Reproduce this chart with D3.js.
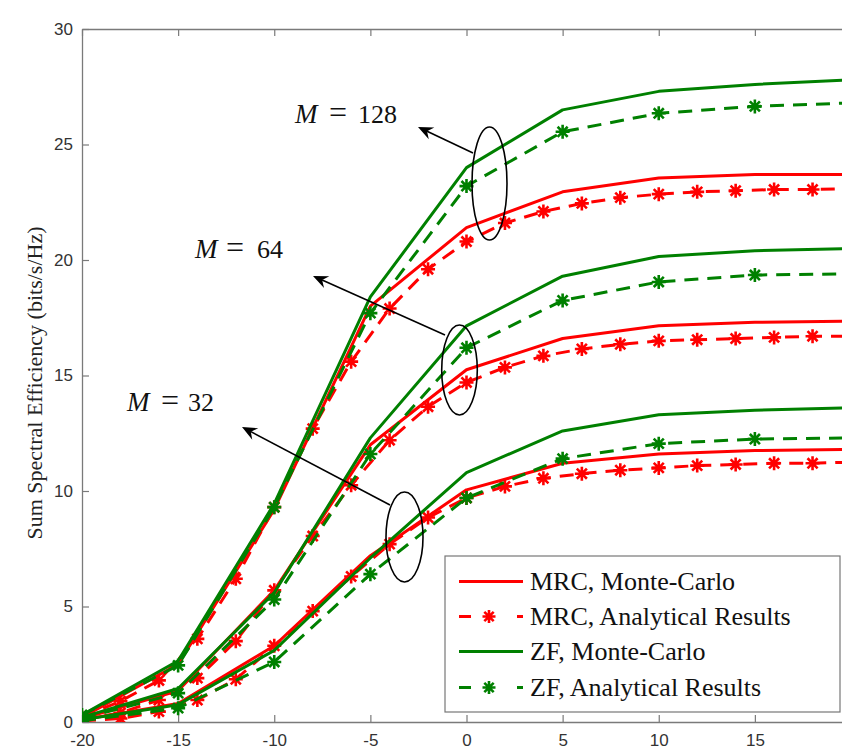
<!DOCTYPE html>
<html><head><meta charset="utf-8">
<script src="https://cdn.jsdelivr.net/npm/d3@7"></script>
<style>body{margin:0;background:#fff;}</style>
</head><body>
<div id="chart"></div>
<script>
// ---- data ----
const snr5 = [-20, -15, -10, -5, 0, 5, 10, 15, 20];
const snr2 = [-20,-18,-16,-14,-12,-10,-8,-6,-4,-2,0,2,4,6,8,10,12,14,16,18,20];
const xTicks = [-20, -15, -10, -5, 0, 5, 10, 15, 20];
const yTicks = [0, 5, 10, 15, 20, 25, 30];

// MRC, Monte-Carlo
const mrcMC128 = [0.2, 2.5, 9.2, 18.0, 21.4, 22.95, 23.55, 23.7, 23.7];
const mrcMC64  = [0.15, 1.35, 5.7, 12.0, 15.25, 16.6, 17.15, 17.3, 17.35];
const mrcMC32  = [0.1, 0.8, 3.3, 7.2, 10.05, 11.2, 11.6, 11.75, 11.8];
// MRC, Analytical
const mrcAn128 = [0.2,0.9,1.8,3.6,6.2,9.3,12.7,15.6,17.9,19.6,20.8,21.6,22.1,22.45,22.7,22.85,22.95,23.0,23.05,23.05,23.1];
const mrcAn64  = [0.1,0.4,0.95,1.9,3.5,5.7,8.05,10.25,12.2,13.65,14.7,15.35,15.85,16.15,16.35,16.5,16.55,16.6,16.65,16.7,16.7];
const mrcAn32  = [0.05,0.15,0.45,0.95,1.85,3.3,4.8,6.3,7.7,8.85,9.7,10.2,10.55,10.75,10.9,11.0,11.1,11.15,11.2,11.2,11.25];
// ZF, Monte-Carlo
const zfMC128 = [0.3, 2.65, 9.45, 18.4, 24.0, 26.5, 27.3, 27.6, 27.8];
const zfMC64  = [0.2, 1.45, 5.6, 12.3, 17.15, 19.3, 20.15, 20.4, 20.5];
const zfMC32  = [0.1, 0.75, 3.1, 7.1, 10.8, 12.6, 13.3, 13.5, 13.6];
// ZF, Analytical
const zfAn128 = [0.3, 2.45, 9.3, 17.7, 23.2, 25.55, 26.35, 26.65, 26.8];
const zfAn64  = [0.15, 1.25, 5.3, 11.6, 16.2, 18.25, 19.05, 19.35, 19.4];
const zfAn32  = [0.05, 0.6, 2.6, 6.4, 9.7, 11.4, 12.05, 12.25, 12.3];

const legendLabels = ["MRC, Monte-Carlo", "MRC, Analytical Results", "ZF, Monte-Carlo", "ZF, Analytical Results"];
const annotLabels = ["128", "64", "32"];
const yLabel = "Sum Spectral Efficiency (bits/s/Hz)";

// ---- drawing ----
const W = 842, H = 756;
const RED = "#ff0000", GREEN = "#008000";
const svg = d3.select("#chart").append("svg").attr("width", W).attr("height", H);

const x = d3.scaleLinear().domain([-20, 20]).range([82, 851]);
const y = d3.scaleLinear().domain([0, 30]).range([722, 29]);

svg.append("defs").append("clipPath").attr("id", "clip")
  .append("rect").attr("x", 82).attr("y", 29).attr("width", 769).attr("height", 693);

const axisColor = "#7a7a7a";
const tickFont = "'Liberation Sans', Arial, sans-serif";
const serif = "'Liberation Serif', 'DejaVu Serif', 'Times New Roman', serif";
const fmt = d => String(d);

// axes
const gx = svg.append("g").attr("transform", "translate(0,722)")
  .call(d3.axisBottom(x).tickValues(xTicks).tickFormat(fmt).tickSizeInner(-7).tickSizeOuter(0).tickPadding(12));
const gxTop = svg.append("g").attr("transform", "translate(0,29)")
  .call(d3.axisTop(x).tickValues(xTicks).tickSizeInner(-7).tickSizeOuter(0).tickFormat(""));
const gy = svg.append("g").attr("transform", "translate(82,0)")
  .call(d3.axisLeft(y).tickValues(yTicks).tickFormat(fmt).tickSizeInner(-7).tickSizeOuter(0).tickPadding(9));
const gyR = svg.append("g").attr("transform", "translate(851,0)")
  .call(d3.axisRight(y).tickValues(yTicks).tickSizeInner(-7).tickSizeOuter(0).tickFormat(""));
[gx, gxTop, gy, gyR].forEach(g => {
  g.selectAll("path.domain").attr("stroke", axisColor).attr("stroke-width", 1.3);
  g.selectAll(".tick line").attr("stroke", axisColor).attr("stroke-width", 1.2);
  g.selectAll("text").attr("fill", "#333").style("font-family", tickFont).style("font-size", "17px");
});
gx.selectAll("text").attr("dy", "0.71em");

svg.append("text")
  .attr("transform", "translate(42,383) rotate(-90)")
  .attr("text-anchor", "middle")
  .style("font-family", serif)
  .style("font-size", "22px").attr("fill", "#222")
  .text(yLabel);

const plot = svg.append("g").attr("clip-path", "url(#clip)");
const line = d3.line().x(d => x(d[0])).y(d => y(d[1]));

function star(g, cx, cy, color, r) {
  const p = d3.path();
  const d = r * 0.72;
  p.moveTo(cx - r, cy); p.lineTo(cx + r, cy);
  p.moveTo(cx, cy - r); p.lineTo(cx, cy + r);
  p.moveTo(cx - d, cy - d); p.lineTo(cx + d, cy + d);
  p.moveTo(cx - d, cy + d); p.lineTo(cx + d, cy - d);
  g.append("path").attr("d", p.toString()).attr("stroke", color)
    .attr("stroke-width", 2.6).attr("fill", "none");
}

function solid(xs, ys, color) {
  plot.append("path").datum(xs.map((v, i) => [v, ys[i]]))
    .attr("d", line).attr("fill", "none").attr("stroke", color)
    .attr("stroke-width", 3).attr("stroke-linejoin", "round");
}
function dashed(xs, ys, color) {
  const pts = xs.map((v, i) => [v, ys[i]]);
  plot.append("path").datum(pts)
    .attr("d", line).attr("fill", "none").attr("stroke", color)
    .attr("stroke-width", 3).attr("stroke-dasharray", "14,9");
  pts.forEach(p => star(plot, x(p[0]), y(p[1]), color, 7));
}

// draw: red first, then green
[[mrcMC128, mrcAn128], [mrcMC64, mrcAn64], [mrcMC32, mrcAn32]].forEach(([mc, an]) => {
  solid(snr5, mc, RED);
  dashed(snr2, an, RED);
});
[[zfMC128, zfAn128], [zfMC64, zfAn64], [zfMC32, zfAn32]].forEach(([mc, an]) => {
  solid(snr5, mc, GREEN);
  dashed(snr5, an, GREEN);
});

// annotations: ellipses + arrows + labels
const annots = [
  {ex: 489.5, ey: 183.5, rx: 17.5, ry: 56.5, x1: 473, y1: 153, x2: 418, y2: 127,
   mx: 295, eqx: 329, nx: 358, by: 123, label: annotLabels[0]},
  {ex: 459.5, ey: 370, rx: 17.8, ry: 45, x1: 445, y1: 335, x2: 313, y2: 276,
   mx: 195, eqx: 226, nx: 257, by: 258, label: annotLabels[1]},
  {ex: 404.5, ey: 537, rx: 18.5, ry: 45, x1: 390, y1: 505, x2: 242, y2: 427,
   mx: 127, eqx: 161, nx: 188, by: 411, label: annotLabels[2]}
];
annots.forEach(a => {
  svg.append("ellipse").attr("cx", a.ex).attr("cy", a.ey).attr("rx", a.rx).attr("ry", a.ry)
    .attr("fill", "none").attr("stroke", "#000").attr("stroke-width", 1.6);
  const ang = Math.atan2(a.y2 - a.y1, a.x2 - a.x1);
  const L = 15, Wd = 6.5, back = 10;
  const bx = a.x2 - back * Math.cos(ang), by2 = a.y2 - back * Math.sin(ang);
  svg.append("line").attr("x1", a.x1).attr("y1", a.y1).attr("x2", bx).attr("y2", by2)
    .attr("stroke", "#000").attr("stroke-width", 1.6);
  const px = -Math.sin(ang), py = Math.cos(ang);
  const hx = a.x2 - L * Math.cos(ang), hy = a.y2 - L * Math.sin(ang);
  const head = [[a.x2, a.y2], [hx + px * Wd, hy + py * Wd], [bx, by2], [hx - px * Wd, hy - py * Wd]];
  svg.append("path").attr("d", "M" + head.map(p => p.join(",")).join("L") + "Z").attr("fill", "#000");
  const t = svg.append("text").attr("y", a.by).style("font-family", serif)
    .style("font-size", "26px").attr("fill", "#111");
  t.append("tspan").attr("x", a.mx).style("font-style", "italic").style("font-size", "27px").text("M");
  t.append("tspan").attr("x", a.eqx).style("font-size", "32px").text("=");
  t.append("tspan").attr("x", a.nx).text(a.label);
});

// legend
const lg = svg.append("g");
lg.append("rect").attr("x", 445).attr("y", 556).attr("width", 395).attr("height", 156)
  .attr("fill", "#fff").attr("stroke", "#777").attr("stroke-width", 1.2);
const rowsY = [581.5, 616.5, 651.5, 687.5];
const lgColors = [RED, RED, GREEN, GREEN];
legendLabels.forEach((lab, i) => {
  const yy = rowsY[i], c = lgColors[i];
  if (i % 2 === 0) {
    lg.append("line").attr("x1", 459).attr("x2", 523).attr("y1", yy).attr("y2", yy)
      .attr("stroke", c).attr("stroke-width", 3);
  } else {
    lg.append("line").attr("x1", 459).attr("x2", 471).attr("y1", yy).attr("y2", yy)
      .attr("stroke", c).attr("stroke-width", 3);
    lg.append("line").attr("x1", 517).attr("x2", 523).attr("y1", yy).attr("y2", yy)
      .attr("stroke", c).attr("stroke-width", 3);
    star(lg, 489, yy, c, 6.5);
  }
  lg.append("text").attr("x", 530).attr("y", yy).attr("dy", "0.33em")
    .style("font-family", serif).style("font-size", "26px").attr("fill", "#111").text(lab);
});
</script>
</body></html>
